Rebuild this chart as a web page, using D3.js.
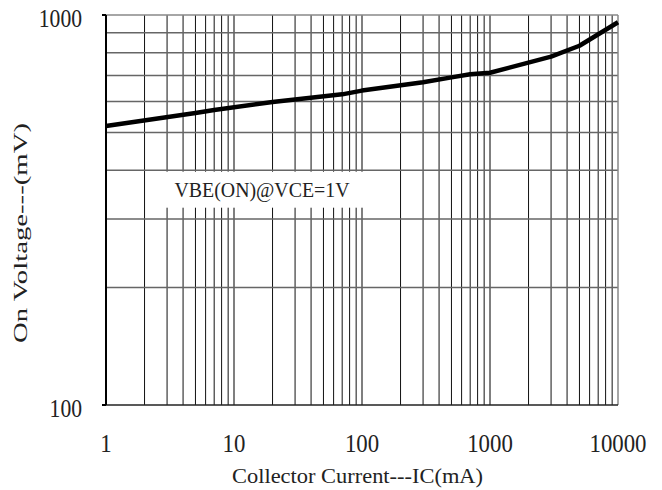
<!DOCTYPE html>
<html>
<head>
<meta charset="utf-8">
<script src="https://cdn.jsdelivr.net/npm/d3@7"></script>
<style>
  body { margin: 0; background: #fff; }
</style>
</head>
<body>
<div id="chart"></div>
<script>
// data
var icValues = [1, 5, 7, 20, 70, 100, 300, 500, 700, 1000, 3000, 5000, 10000];
var vbeValues = [519, 561, 571, 598, 626, 640, 672, 692, 705, 711, 782, 834, 958];
var xTickLabels = [1, 10, 100, 1000, 10000];
var yTickLabels = [100, 1000];
var yGrid = [200, 300, 400, 500, 600, 700, 800, 900];
var note = "VBE(ON)@VCE=1V";

var font = "'Liberation Serif', 'Times New Roman', serif";

var margin = {top: 15, right: 44, bottom: 85, left: 106},
    width = 662 - margin.left - margin.right,
    height = 490 - margin.top - margin.bottom;

var svg = d3.select("#chart")
  .append("svg")
    .attr("width", 662)
    .attr("height", 490)
  .append("g")
    .attr("transform", "translate(" + margin.left + "," + margin.top + ")");

var x = d3.scaleLog().domain([1, 10000]).range([0, width]);
var y = d3.scaleLog().domain([100, 1000]).range([height, 0]);

// x grid: 2..9 in every decade, plus decade lines
var xGrid = [];
[1, 10, 100, 1000].forEach(function(d) {
  for (var k = 1; k <= 9; k++) { if (d * k > 1) xGrid.push(d * k); }
});
var decade = function(d) { return [10, 100, 1000].indexOf(d) >= 0; };

svg.append("g")
  .selectAll("line")
  .data(xGrid)
  .enter()
  .append("line")
    .attr("x1", function(d) { return x(d); })
    .attr("x2", function(d) { return x(d); })
    .attr("y1", 0)
    .attr("y2", height)
    .style("stroke", function(d) { return decade(d) ? "#555" : "#111"; })
    .style("stroke-width", function(d) { return decade(d) ? 1.5 : 1; });

svg.append("g")
  .selectAll("line")
  .data(yGrid)
  .enter()
  .append("line")
    .attr("x1", 0)
    .attr("x2", width)
    .attr("y1", function(d) { return y(d); })
    .attr("y2", function(d) { return y(d); })
    .style("stroke", "#666")
    .style("stroke-width", 1.5);

// annotation with white band behind it
svg.append("rect")
  .attr("x", 52)
  .attr("y", y(400) + 1.5)
  .attr("width", 217)
  .attr("height", 36)
  .style("fill", "#fff");
svg.append("text")
  .attr("x", 156)
  .attr("y", 182)
  .attr("textLength", 175)
  .attr("lengthAdjust", "spacingAndGlyphs")
  .style("text-anchor", "middle")
  .style("font-family", font)
  .style("font-size", "22px")
  .style("fill", "#222")
  .text(note);

// top and right border in gray, left and bottom in black
svg.append("line").attr("x1", 0).attr("x2", width).attr("y1", 0).attr("y2", 0)
  .style("stroke", "#888").style("stroke-width", 1.5);
svg.append("line").attr("x1", width).attr("x2", width).attr("y1", 0).attr("y2", height)
  .style("stroke", "#888").style("stroke-width", 1.5);
svg.append("line").attr("x1", 0).attr("x2", width).attr("y1", height).attr("y2", height)
  .style("stroke", "#222").style("stroke-width", 1.5);
svg.append("line").attr("x1", 0).attr("x2", 0).attr("y1", 0).attr("y2", height)
  .style("stroke", "#000").style("stroke-width", 2);
svg.selectAll(".corner")
  .data([100, 1000])
  .enter()
  .append("line")
    .attr("x1", -4).attr("x2", 0)
    .attr("y1", function(d) { return y(d); })
    .attr("y2", function(d) { return y(d); })
    .style("stroke", "#000").style("stroke-width", 2);

// the curve
var line = d3.line()
  .x(function(d, i) { return x(icValues[i]); })
  .y(function(d) { return y(d); });

svg.append("path")
  .datum(vbeValues)
  .attr("d", line)
  .style("fill", "none")
  .style("stroke", "#000")
  .style("stroke-width", 4.5)
  .style("stroke-linejoin", "round");

// tick labels (the original face has wide, tall digits)
svg.append("g")
  .selectAll("text")
  .data(xTickLabels)
  .enter()
  .append("text")
    .attr("x", function(d) { return x(d); })
    .attr("y", height + 47)
    .attr("textLength", function(d) { return String(d).length * 11.4; })
    .attr("lengthAdjust", "spacingAndGlyphs")
    .style("text-anchor", "middle")
    .style("font-family", font)
    .style("font-size", "25px")
    .style("fill", "#222")
    .text(function(d) { return d; });

svg.append("g")
  .selectAll("text")
  .data(yTickLabels)
  .enter()
  .append("text")
    .attr("x", -24)
    .attr("y", function(d) { return y(d) + 12; })
    .attr("textLength", function(d) { return String(d).length * 10.8; })
    .attr("lengthAdjust", "spacingAndGlyphs")
    .style("text-anchor", "end")
    .style("font-family", font)
    .style("font-size", "25px")
    .style("fill", "#222")
    .text(function(d) { return d; });

// axis titles
svg.append("text")
  .attr("x", 251.5)
  .attr("y", height + 78)
  .attr("textLength", 251)
  .attr("lengthAdjust", "spacingAndGlyphs")
  .style("text-anchor", "middle")
  .style("font-family", font)
  .style("font-size", "22px")
  .style("fill", "#222")
  .text("Collector Current---IC(mA)");

svg.append("text")
  .attr("transform", "rotate(-90)")
  .attr("x", -218)
  .attr("y", -79)
  .attr("textLength", 220)
  .attr("lengthAdjust", "spacingAndGlyphs")
  .style("text-anchor", "middle")
  .style("font-family", font)
  .style("font-size", "19px")
  .style("fill", "#222")
  .text("On Voltage---(mV)");
</script>
</body>
</html>
